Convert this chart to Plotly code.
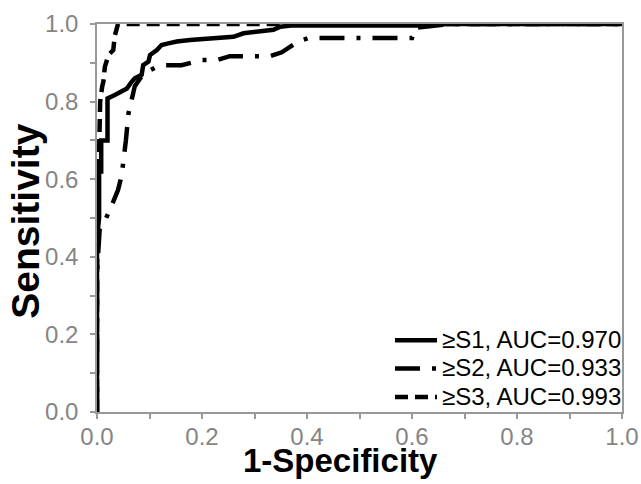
import plotly.graph_objects as go

# ≥S1 curve (1-Specificity, Sensitivity)
s1_fpr = [0, 0, 0.004, 0.004, 0.008, 0.008, 0.02, 0.02, 0.034, 0.047, 0.057, 0.066, 0.072,
          0.085, 0.088, 0.098, 0.101, 0.114, 0.123, 0.136, 0.152, 0.177, 0.209, 0.26, 0.279,
          0.336, 0.349, 0.37, 0.62, 0.67, 1.0]
s1_tpr = [0, 0.45, 0.5, 0.62, 0.62, 0.70, 0.70, 0.808, 0.817, 0.826, 0.834, 0.851, 0.860,
          0.869, 0.894, 0.903, 0.920, 0.933, 0.946, 0.950, 0.955, 0.959, 0.963, 0.967, 0.976,
          0.985, 0.993, 0.996, 0.996, 1.0, 1.0]

# ≥S2 curve
s2_fpr = [0, 0, 0.005, 0.017, 0.031, 0.04, 0.047, 0.053, 0.055, 0.06, 0.066, 0.072, 0.085,
          0.1, 0.115, 0.13, 0.161, 0.2, 0.228, 0.253, 0.30, 0.33, 0.352, 0.383, 0.404, 0.6,
          0.606, 0.67, 1.0]
s2_tpr = [0, 0.36, 0.47, 0.499, 0.542, 0.572, 0.61, 0.67, 0.70, 0.77, 0.80, 0.84, 0.865,
          0.88, 0.89, 0.894, 0.894, 0.907, 0.907, 0.917, 0.917, 0.917, 0.927, 0.955, 0.964,
          0.964, 0.99, 1.0, 1.0]

# ≥S3 curve
s3_fpr = [0, 0, 0.003, 0.006, 0.01, 0.012, 0.015, 0.022, 0.031, 0.034, 0.04, 1.0]
s3_tpr = [0, 0.36, 0.6, 0.8, 0.84, 0.85, 0.89, 0.92, 0.933, 0.97, 1.0, 1.0]

labels = ["≥S1, AUC=0.970", "≥S2, AUC=0.933", "≥S3, AUC=0.993"]
ticks = [0.0, 0.2, 0.4, 0.6, 0.8, 1.0]
tick_text = ["0.0", "0.2", "0.4", "0.6", "0.8", "1.0"]
x_title = "1-Specificity"
y_title = "Sensitivity"

FONT = "Liberation Sans, Arial, sans-serif"


def legend_name(s):
    return '<span style="font-size:24px">' + s + '</span>'


fig = go.Figure()
fig.add_trace(go.Scatter(x=s1_fpr, y=s1_tpr, mode="lines", name=legend_name(labels[0]),
                         line=dict(color="black", width=4.5, dash="solid")))
fig.add_trace(go.Scatter(x=s2_fpr, y=s2_tpr, mode="lines", name=legend_name(labels[1]),
                         line=dict(color="black", width=4.5, dash="25px,12px,4px,12px")))
fig.add_trace(go.Scatter(x=s3_fpr, y=s3_tpr, mode="lines", name=legend_name(labels[2]),
                         line=dict(color="black", width=4.5, dash="13px,7px")))

axis_common = dict(
    range=[0, 1], showgrid=False, zeroline=False, automargin=False,
    showline=True, linecolor="#999999", linewidth=1.5, mirror=True,
    ticks="outside", tickcolor="#999999", ticklen=5, tickwidth=1.5,
    tickvals=ticks, ticktext=tick_text,
    tickfont=dict(family=FONT, size=24, color="#858585"),
    minor=dict(ticks="outside", ticklen=5, tickcolor="#999999", dtick=0.1, tickwidth=1.5),
)

fig.update_layout(
    width=641, height=484,
    margin=dict(l=97, r=19, t=24, b=72),
    paper_bgcolor="white", plot_bgcolor="white",
    xaxis=dict(axis_common, ticklabelstandoff=-3),
    yaxis=dict(axis_common, ticklabelstandoff=7),
    legend=dict(x=1.0095, xanchor="right", y=-0.013, yanchor="bottom",
                bgcolor="rgba(0,0,0,0)", borderwidth=0,
                font=dict(family=FONT, size=19.5, color="black"),
                tracegroupgap=0, itemwidth=42),
    showlegend=True,
    annotations=[
        dict(text=x_title, xref="paper", yref="paper", x=0.463, y=-0.126,
             xanchor="center", yanchor="middle", showarrow=False,
             font=dict(family=FONT, size=33, color="black", weight="bold")),
        dict(text=y_title, xref="paper", yref="paper", x=-0.136, y=0.492,
             xanchor="center", yanchor="middle", showarrow=False, textangle=-90,
             font=dict(family=FONT, size=39, color="black", weight="bold")),
    ],
)

fig.write_html("out.html", config={"displayModeBar": False},
               post_script="document.body.style.margin='0px';")
